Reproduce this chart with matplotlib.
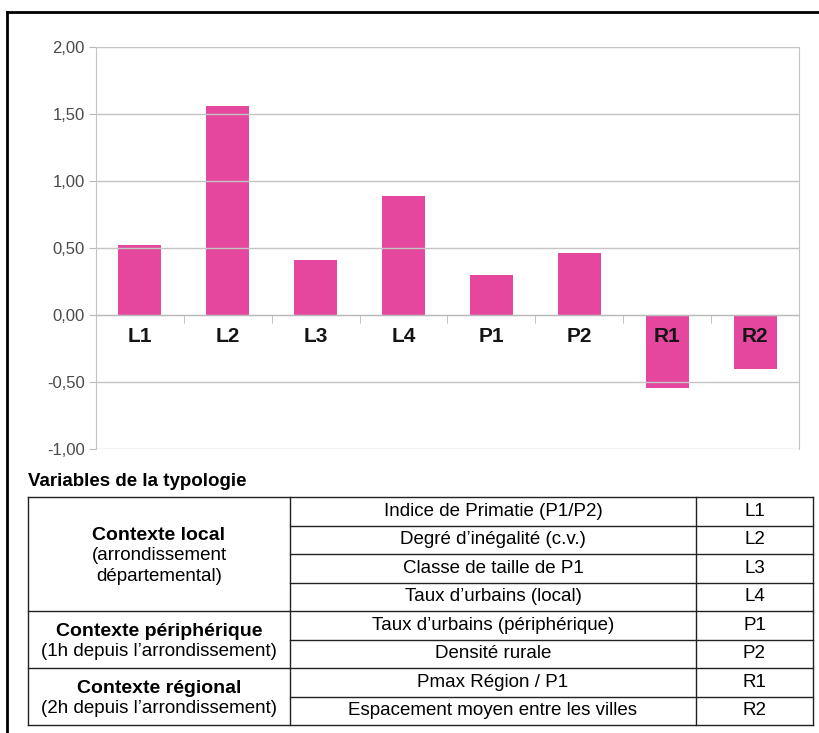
import matplotlib.pyplot as plt
from matplotlib.lines import Line2D

codes = ["L1", "L2", "L3", "L4", "P1", "P2", "R1", "R2"]
values = [0.52, 1.56, 0.41, 0.89, 0.30, 0.46, -0.545, -0.40]
yticks = [-1.0, -0.5, 0.0, 0.5, 1.0, 1.5, 2.0]

table_title = "Variables de la typologie"
group_titles = ["Contexte local", "Contexte périphérique", "Contexte régional"]
group_subs = ["(arrondissement\ndépartemental)", "(1h depuis l’arrondissement)", "(2h depuis l’arrondissement)"]
group_sizes = [4, 2, 2]
var_names = ["Indice de Primatie (P1/P2)", "Degré d’inégalité (c.v.)", "Classe de taille de P1",
             "Taux d’urbains (local)", "Taux d’urbains (périphérique)", "Densité rurale",
             "Pmax Région / P1", "Espacement moyen entre les villes"]

plt.rcParams["font.family"] = ["Liberation Sans", "DejaVu Sans"]

W, H = 820, 733
fig = plt.figure(figsize=(W / 100, H / 100), dpi=100)

def fx(px):
    return px / W

def fy(py):
    return 1 - py / H

ax = fig.add_axes([fx(96), fy(449), fx(799) - fx(96), fy(47) - fy(449)])
x = list(range(len(codes)))
ax.bar(x, values, width=0.49, color="#E6479E", zorder=1)
ax.set_xlim(-0.5, len(codes) - 0.5)
ax.set_ylim(-1.0, 2.0)
ax.set_yticks(yticks)
ax.set_yticklabels([f"{v:.2f}".replace(".", ",") for v in yticks], color="#4a4a4a", fontsize=12)
ax.tick_params(axis="y", length=5, color="#b8b8b8", pad=3)
ax.yaxis.grid(True, color="#c4c4c4", linewidth=1)
ax.set_axisbelow("line")

ax.spines["bottom"].set_position(("data", 0))
ax.spines["bottom"].set_color("#b8b8b8")
ax.spines["top"].set_visible(False)
ax.spines["left"].set_color("#c4c4c4")
ax.spines["right"].set_color("#c4c4c4")
ax.set_xticks(x)
ax.set_xticklabels(codes, fontsize=15, fontweight="bold", color="#151515")
ax.tick_params(axis="x", which="major", length=0, pad=9)
ax.set_xticks([i + 0.5 for i in x[:-1]], minor=True)
ax.tick_params(axis="x", which="minor", length=6, color="#b8b8b8", direction="out")

# outer frame
fig.add_artist(Line2D([fx(7), fx(820)], [fy(12), fy(12)], color="black", lw=2))
fig.add_artist(Line2D([fx(7), fx(7)], [fy(12), fy(733)], color="black", lw=2))

# table
fig.text(fx(28), fy(482), table_title, fontsize=13.5, fontweight="bold", va="center", ha="left")
tx0, tx1, tx2, tx3 = 28, 290, 696, 813
ty0, rh = 497, 28.5
n = len(var_names)
ty_end = ty0 + n * rh
lc = "#222222"
for xx in (tx0, tx1, tx2, tx3):
    fig.add_artist(Line2D([fx(xx), fx(xx)], [fy(ty0), fy(ty_end)], color=lc, lw=1))
fig.add_artist(Line2D([fx(tx0), fx(tx3)], [fy(ty0), fy(ty0)], color=lc, lw=1))
bounds = []
acc = 0
for s in group_sizes:
    acc += s
    bounds.append(acc)
for i in range(1, n + 1):
    yy = ty0 + i * rh
    left = tx0 if i in bounds else tx1
    fig.add_artist(Line2D([fx(left), fx(tx3)], [fy(yy), fy(yy)], color=lc, lw=1))

for i in range(n):
    yc = ty0 + (i + 0.5) * rh
    fig.text(fx((tx1 + tx2) / 2), fy(yc), var_names[i], fontsize=13.5, ha="center", va="center")
    fig.text(fx((tx2 + tx3) / 2), fy(yc), codes[i], fontsize=13.5, ha="center", va="center")

start = 0
for t, sub, s in zip(group_titles, group_subs, group_sizes):
    top = ty0 + start * rh
    bot = ty0 + (start + s) * rh
    lines = [t] + sub.split("\n")
    line_h = 20.5
    y_first = (top + bot) / 2 + 2 - (len(lines) - 1) * line_h / 2
    for k, txt in enumerate(lines):
        fig.text(fx((tx0 + tx1) / 2), fy(y_first + k * line_h), txt, fontsize=14 if k == 0 else 13.5,
                 fontweight="bold" if k == 0 else "normal", ha="center", va="center")
    start += s

fig.savefig("out.png", dpi=100)
